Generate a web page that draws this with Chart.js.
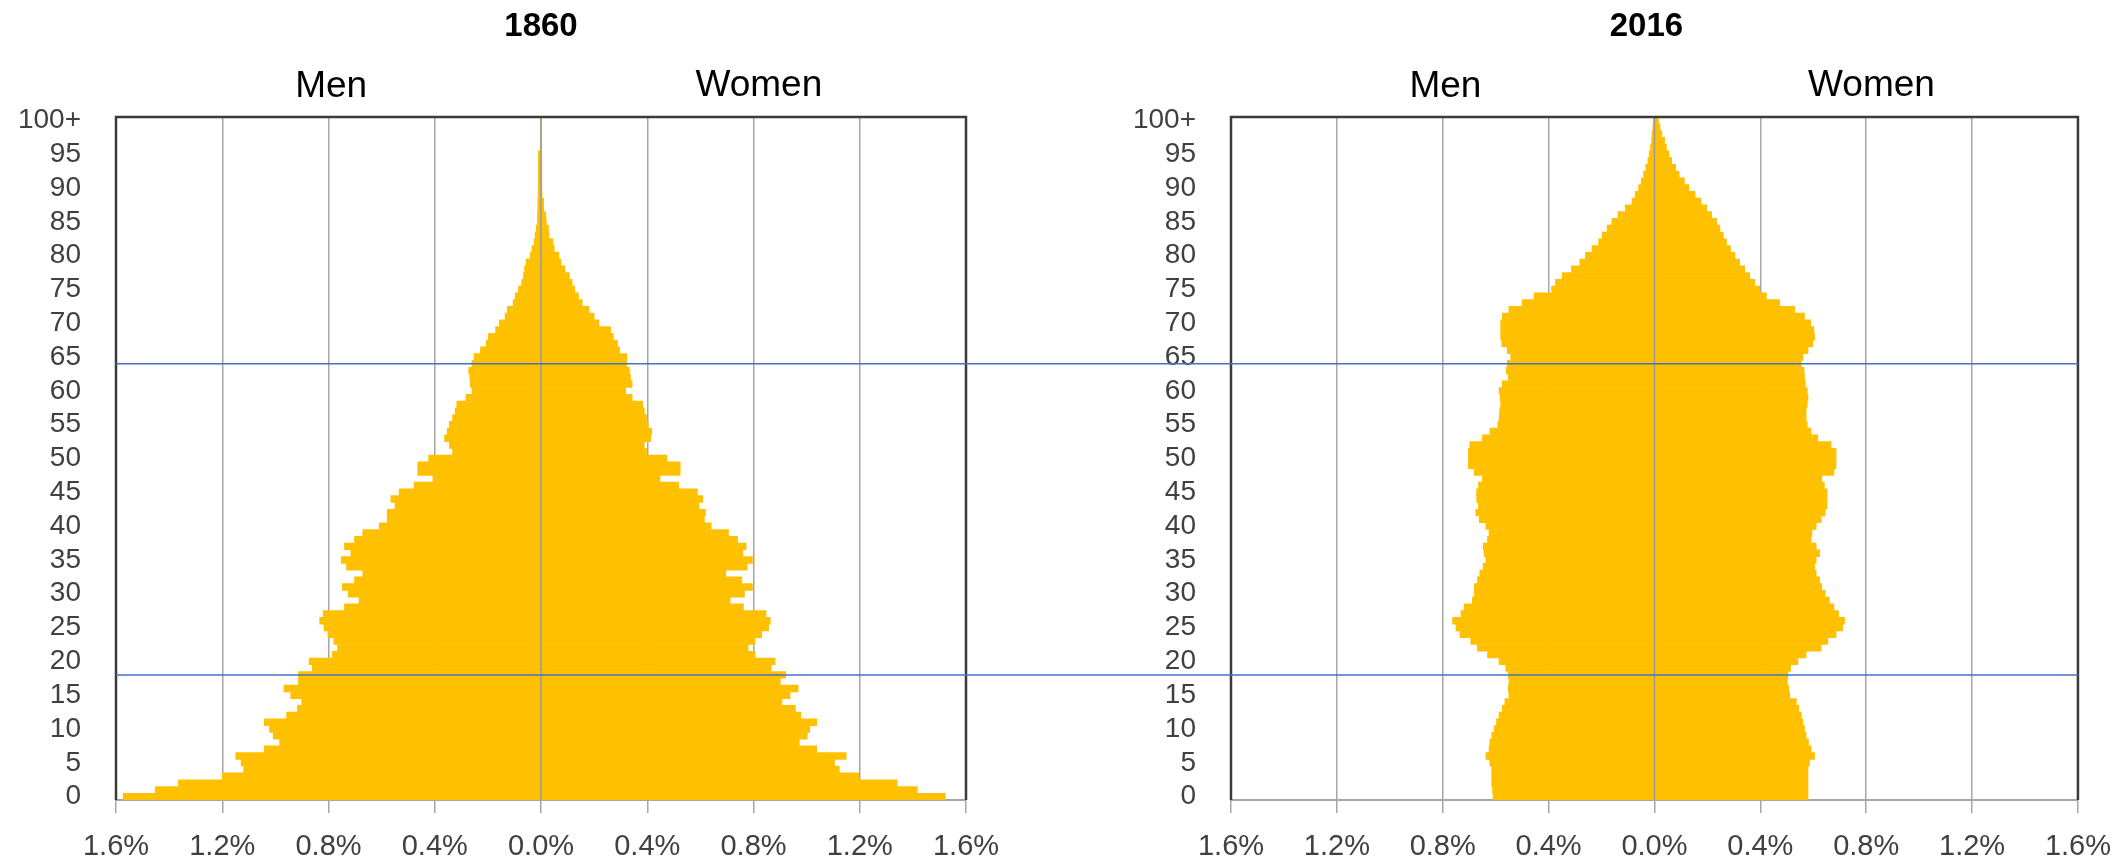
<!DOCTYPE html>
<html>
<head>
<meta charset="utf-8">
<title>Population pyramids 1860 / 2016</title>
<script src="https://cdn.jsdelivr.net/npm/chart.js@4.4.1/dist/chart.umd.min.js"></script>
<style>
    html, body { margin: 0; padding: 0; background: #ffffff; }
    #wrap { position: relative; width: 2128px; height: 862px; overflow: hidden; }
    .box { position: absolute; top: 0; height: 862px; }
    #box1860 { left: 0; width: 1100px; }
    #box2016 { left: 1100px; width: 1028px; }
</style>
</head>
<body>
<div id="wrap">
    <div class="box" id="box1860"><canvas id="chart1860"></canvas></div>
    <div class="box" id="box2016"><canvas id="chart2016"></canvas></div>
</div>
<script>
// Age categories, bottom (0) to top (100+)
const ageLabels = [
    '0', '1', '2', '3', '4', '5', '6', '7', '8', '9',
    '10', '11', '12', '13', '14', '15', '16', '17', '18', '19',
    '20', '21', '22', '23', '24', '25', '26', '27', '28', '29',
    '30', '31', '32', '33', '34', '35', '36', '37', '38', '39',
    '40', '41', '42', '43', '44', '45', '46', '47', '48', '49',
    '50', '51', '52', '53', '54', '55', '56', '57', '58', '59',
    '60', '61', '62', '63', '64', '65', '66', '67', '68', '69',
    '70', '71', '72', '73', '74', '75', '76', '77', '78', '79',
    '80', '81', '82', '83', '84', '85', '86', '87', '88', '89',
    '90', '91', '92', '93', '94', '95', '96', '97', '98', '99',
    '100+'
];

// Share of total population (%), by single year of age 0..100+
const men1860 = [
    1.573, 1.452, 1.365, 1.200, 1.119, 1.129, 1.149, 1.042, 0.984, 1.008,
    1.022, 1.042, 0.958, 0.917, 0.901, 0.942, 0.968, 0.913, 0.913, 0.861,
    0.873, 0.786, 0.766, 0.780, 0.802, 0.817, 0.833, 0.820, 0.740, 0.685,
    0.726, 0.748, 0.702, 0.671, 0.732, 0.752, 0.716, 0.740, 0.702, 0.671,
    0.609, 0.579, 0.579, 0.550, 0.565, 0.534, 0.478, 0.407, 0.464, 0.464,
    0.423, 0.333, 0.345, 0.363, 0.353, 0.345, 0.333, 0.323, 0.317, 0.282,
    0.260, 0.266, 0.268, 0.272, 0.260, 0.252, 0.228, 0.206, 0.198, 0.171,
    0.157, 0.135, 0.127, 0.105, 0.097, 0.085, 0.073, 0.066, 0.062, 0.056,
    0.040, 0.034, 0.026, 0.022, 0.018, 0.014, 0.013, 0.012, 0.012, 0.011,
    0.010, 0.010, 0.010, 0.010, 0.010, 0.010, 0, 0, 0, 0,
    0
];
const women1860 = [
    1.522, 1.417, 1.341, 1.196, 1.123, 1.105, 1.149, 1.038, 0.972, 1.002,
    1.012, 1.038, 0.978, 0.958, 0.907, 0.938, 0.968, 0.901, 0.921, 0.867,
    0.881, 0.806, 0.780, 0.806, 0.831, 0.857, 0.863, 0.847, 0.762, 0.712,
    0.766, 0.796, 0.756, 0.696, 0.776, 0.796, 0.760, 0.772, 0.740, 0.706,
    0.641, 0.615, 0.619, 0.595, 0.609, 0.589, 0.518, 0.448, 0.524, 0.524,
    0.474, 0.397, 0.389, 0.413, 0.417, 0.403, 0.397, 0.389, 0.383, 0.343,
    0.319, 0.343, 0.337, 0.333, 0.323, 0.323, 0.296, 0.288, 0.272, 0.262,
    0.218, 0.200, 0.181, 0.155, 0.141, 0.127, 0.117, 0.107, 0.090, 0.075,
    0.067, 0.050, 0.045, 0.030, 0.028, 0.020, 0.018, 0.010, 0.010, 0.004,
    0.003, 0.003, 0.003, 0.003, 0.003, 0.003, 0, 0, 0, 0,
    0
];
const men2016 = [
    0.610, 0.612, 0.615, 0.615, 0.615, 0.622, 0.637, 0.625, 0.622, 0.615,
    0.606, 0.597, 0.587, 0.575, 0.565, 0.550, 0.552, 0.550, 0.552, 0.562,
    0.587, 0.631, 0.669, 0.694, 0.735, 0.750, 0.763, 0.731, 0.719, 0.688,
    0.681, 0.681, 0.669, 0.660, 0.647, 0.637, 0.644, 0.647, 0.631, 0.625,
    0.637, 0.662, 0.675, 0.665, 0.672, 0.672, 0.665, 0.650, 0.681, 0.703,
    0.703, 0.703, 0.698, 0.650, 0.622, 0.592, 0.587, 0.585, 0.581, 0.583,
    0.587, 0.575, 0.552, 0.560, 0.556, 0.543, 0.556, 0.577, 0.581, 0.581,
    0.581, 0.575, 0.550, 0.500, 0.455, 0.389, 0.374, 0.349, 0.314, 0.282,
    0.261, 0.236, 0.211, 0.198, 0.179, 0.161, 0.138, 0.110, 0.085, 0.073,
    0.060, 0.050, 0.041, 0.033, 0.025, 0.020, 0.015, 0.011, 0.009, 0.006,
    0.004
];
const women2016 = [
    0.580, 0.580, 0.580, 0.580, 0.580, 0.586, 0.605, 0.592, 0.582, 0.573,
    0.567, 0.561, 0.555, 0.545, 0.536, 0.511, 0.507, 0.502, 0.504, 0.514,
    0.542, 0.573, 0.630, 0.655, 0.686, 0.711, 0.718, 0.695, 0.678, 0.661,
    0.645, 0.632, 0.624, 0.611, 0.605, 0.611, 0.624, 0.611, 0.592, 0.595,
    0.611, 0.630, 0.645, 0.652, 0.652, 0.652, 0.642, 0.632, 0.678, 0.686,
    0.686, 0.686, 0.667, 0.617, 0.592, 0.577, 0.573, 0.573, 0.577, 0.580,
    0.577, 0.570, 0.567, 0.565, 0.555, 0.561, 0.580, 0.598, 0.605, 0.602,
    0.590, 0.567, 0.530, 0.473, 0.423, 0.398, 0.379, 0.360, 0.341, 0.322,
    0.304, 0.287, 0.272, 0.260, 0.247, 0.235, 0.216, 0.197, 0.176, 0.153,
    0.130, 0.113, 0.093, 0.080, 0.065, 0.055, 0.045, 0.038, 0.028, 0.021,
    0.015
];

// Value axis ticks (men are drawn to the left)
const pctTicks = [-1.6, -1.2, -0.8, -0.4, 0, 0.4, 0.8, 1.2, 1.6];

// Ages marked with the blue reference lines
const markerAges = ['18', '64'];

const barColor = '#FFC000';
const gridColor = '#a6a6a6';
const frameColor = '#3a3a3a';
const markerColor = '#4472C4';

Chart.defaults.font.family = "'Liberation Sans', Arial, sans-serif";
Chart.defaults.color = '#404040';

// Titles, frame, zero line and the blue age markers
const pyramidDecor = {
    id: 'pyramidDecor',
    afterDatasetsDraw(chart, args, opts) {
        const { ctx, chartArea: a, scales: { x, y } } = chart;
        ctx.save();

        // zero axis over the bars
        const x0 = x.getPixelForValue(0);
        ctx.strokeStyle = '#9a9a9a';
        ctx.lineWidth = 1.5;
        ctx.beginPath();
        ctx.moveTo(x0, a.top);
        ctx.lineTo(x0, a.bottom);
        ctx.stroke();

        // frame: left, top, right
        ctx.strokeStyle = frameColor;
        ctx.lineWidth = 2.5;
        ctx.beginPath();
        ctx.moveTo(a.left, a.bottom);
        ctx.lineTo(a.left, a.top);
        ctx.lineTo(a.right, a.top);
        ctx.lineTo(a.right, a.bottom);
        ctx.stroke();

        // blue lines, carried across the gap between the two charts
        ctx.strokeStyle = markerColor;
        ctx.lineWidth = 1.5;
        markerAges.forEach(age => {
            const py = y.getPixelForValue(ageLabels.indexOf(age));
            const from = opts.lineSide === 'right' ? a.left : 0;
            const to = opts.lineSide === 'right' ? chart.width : a.right;
            ctx.beginPath();
            ctx.moveTo(from, py);
            ctx.lineTo(to, py);
            ctx.stroke();
        });

        // headings
        ctx.fillStyle = '#000000';
        ctx.textAlign = 'center';
        ctx.textBaseline = 'middle';
        ctx.font = "bold 33px 'Liberation Sans', Arial, sans-serif";
        ctx.fillText(opts.title, (a.left + a.right) / 2 + opts.titleShift, 27);

        ctx.textBaseline = 'alphabetic';
        ctx.font = "37px 'Liberation Sans', Arial, sans-serif";
        ctx.fillText('Men', x.getPixelForValue(-0.79), 97);
        ctx.fillText('Women', x.getPixelForValue(0.82), 96);

        ctx.restore();
    }
};

function makePyramid(canvasId, title, men, women, yAxisWidth, rightPad, lineSide, titleShift) {
    return new Chart(document.getElementById(canvasId), {
        type: 'bar',
        data: {
            labels: ageLabels,
            datasets: [
                {
                    label: 'Men',
                    data: men.map(v => -v),
                    backgroundColor: barColor,
                    borderWidth: 0,
                    barPercentage: 1,
                    categoryPercentage: 1
                },
                {
                    label: 'Women',
                    data: women,
                    backgroundColor: barColor,
                    borderWidth: 0,
                    barPercentage: 1,
                    categoryPercentage: 1
                }
            ]
        },
        options: {
            indexAxis: 'y',
            responsive: true,
            maintainAspectRatio: false,
            animation: false,
            layout: { padding: { left: 0, right: rightPad, top: 117, bottom: 0 } },
            plugins: {
                legend: { display: false },
                title: { display: false },
                tooltip: { enabled: false },
                pyramidDecor: { title: title, lineSide: lineSide, titleShift: titleShift }
            },
            scales: {
                x: {
                    stacked: true,
                    min: -1.6,
                    max: 1.6,
                    afterBuildTicks: scale => {
                        scale.ticks = pctTicks.map(v => ({ value: v }));
                    },
                    afterFit: scale => { scale.height = 62; },
                    grid: {
                        color: gridColor,
                        lineWidth: 1.5,
                        drawTicks: true,
                        tickLength: 13,
                        tickColor: gridColor
                    },
                    border: { display: true, color: gridColor, width: 2 },
                    ticks: {
                        padding: 17,
                        maxRotation: 0,
                        font: { size: 29 },
                        color: '#404040',
                        callback: value => Math.abs(value).toFixed(1) + '%'
                    }
                },
                y: {
                    stacked: true,
                    reverse: true,
                    afterFit: scale => { scale.width = yAxisWidth; },
                    grid: { display: false, drawTicks: false },
                    border: { display: false },
                    ticks: {
                        autoSkip: false,
                        padding: 35,
                        font: { size: 28 },
                        color: '#404040',
                        callback: (value, index) => index % 5 === 0 ? ageLabels[index] : ''
                    }
                }
            }
        },
        plugins: [pyramidDecor]
    });
}

makePyramid('chart1860', '1860', men1860, women1860, 116, 134, 'right', 0);
makePyramid('chart2016', '2016', men2016, women2016, 131, 47, 'left', -8);
</script>
</body>
</html>
